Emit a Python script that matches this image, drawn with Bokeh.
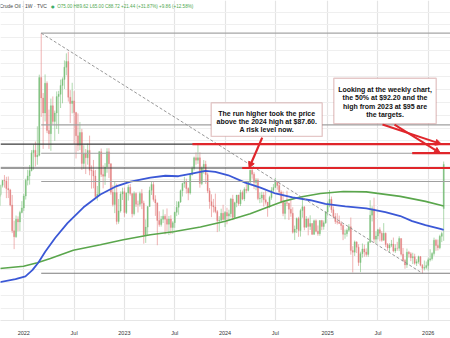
import pandas as pd
from bokeh.plotting import figure
from bokeh.models import (ColumnDataSource, Range1d, FixedTicker, BoxAnnotation,
                          Label, Arrow, NormalHead, Grid)
from bokeh.embed import file_html
from bokeh.resources import INLINE

# ------------------------------------------------------------------ data
first_week = "2021-10-04"          # Monday of the first weekly bar
prior_close = 75.88                # close before the first bar
last_open = 75.00                  # gap open of the last bar

close_2021 = [79.35, 82.28, 83.76, 83.57, 81.27, 80.79, 76.10, 68.15, 66.26, 71.67, 70.86, 73.79, 75.21]
high_2021 = [79.78, 82.45, 83.87, 85.41, 84.88, 84.97, 81.13, 79.25, 71.25, 72.85, 72.60, 74.33, 77.32]
low_2021 = [74.96, 78.75, 81.56, 81.50, 78.25, 78.28, 75.72, 67.40, 62.43, 65.93, 68.00, 68.03, 73.54]

close_2022 = [78.90, 83.82, 85.14, 86.82, 92.31, 93.10, 91.07, 91.59, 115.68, 109.33,
              104.70, 113.90, 99.27, 98.26, 106.95, 102.07, 104.69, 109.77, 110.49, 113.23,
              115.07, 118.87, 120.67, 109.56, 107.62, 108.43, 104.79, 97.59, 94.70, 98.62,
              89.01, 92.09, 90.77, 93.06, 86.87, 86.79, 85.11, 78.74, 79.49, 92.64,
              85.61, 85.05, 87.90, 92.61, 88.96, 80.08, 76.28, 79.98, 71.02, 74.29,
              79.56, 80.26]
high_2022 = [79.57, 84.29, 87.05, 88.54, 93.17, 94.94, 95.82, 100.54, 116.57, 129.45,
             110.86, 116.64, 114.50, 105.73, 109.14, 109.81, 105.41, 111.37, 111.54, 115.03,
             115.70, 120.99, 123.18, 123.68, 111.77, 114.05, 111.45, 105.04, 104.54, 101.88,
             99.75, 94.66, 93.50, 95.22, 97.65, 88.40, 90.10, 86.98, 82.03, 92.89,
             93.64, 88.41, 89.11, 93.74, 93.74, 89.01, 82.25, 83.34, 82.74, 77.98,
             80.33, 81.50]
low_2022 = [74.27, 77.82, 82.20, 82.44, 86.55, 87.10, 88.08, 88.61, 91.23, 103.46,
            93.53, 102.05, 98.44, 93.54, 92.93, 101.23, 96.02, 99.73, 98.20, 106.22,
            107.68, 112.11, 116.37, 108.22, 101.53, 104.56, 95.10, 90.56, 92.83, 93.16,
            87.01, 87.36, 85.73, 88.64, 85.35, 81.20, 81.30, 78.13, 77.50, 79.37,
            84.84, 81.30, 82.37, 86.13, 84.52, 79.33, 75.67, 73.60, 70.08, 70.30,
            73.77, 77.68]

close_2023 = [73.77, 79.86, 81.64, 79.68, 73.39, 79.72, 76.34, 76.32, 79.68, 76.68,
              66.74, 69.26, 75.67, 80.70, 82.52, 77.87, 76.78, 71.34, 70.04, 71.69,
              72.67, 71.74, 70.17, 71.78, 69.16, 70.64, 73.86, 75.42, 77.07, 80.58,
              82.82, 83.19, 81.25, 79.83, 85.55, 87.51, 90.77, 90.03, 90.79, 82.79,
              87.69, 88.75, 85.54, 80.51, 77.17, 75.89, 75.54, 74.07, 71.23, 71.43,
              73.56, 71.65]
high_2023 = [81.50, 80.05, 82.38, 82.66, 79.71, 80.35, 80.07, 77.46, 80.27, 81.04,
             77.46, 71.67, 75.72, 81.81, 83.53, 83.24, 79.14, 76.92, 74.17, 72.72,
             74.73, 73.28, 75.06, 72.72, 72.95, 71.11, 74.04, 77.30, 77.33, 80.92,
             83.03, 84.89, 84.30, 81.60, 85.95, 88.08, 91.15, 92.43, 95.03, 92.48,
             88.04, 90.06, 89.85, 86.20, 81.40, 79.44, 78.02, 79.67, 74.58, 72.65,
             74.97, 76.18]
low_2023 = [72.46, 73.33, 77.49, 79.05, 72.25, 72.87, 75.50, 73.80, 75.61, 74.84,
            64.12, 64.36, 66.82, 75.60, 79.23, 77.18, 72.75, 63.64, 69.39, 69.42,
            70.54, 67.03, 67.95, 66.80, 67.05, 67.16, 69.04, 72.66, 73.10, 76.77,
            78.76, 81.50, 79.67, 77.61, 79.35, 85.25, 86.85, 88.64, 88.90, 81.50,
            82.29, 85.85, 82.66, 79.80, 74.96, 72.37, 73.79, 73.56, 67.71, 67.97,
            71.19, 71.33]

close_2024 = [73.81, 72.68, 73.41, 78.01, 72.28, 76.84, 79.19, 76.49, 79.97, 78.01,
              81.04, 80.63, 83.17, 86.91, 85.66, 83.14, 83.85, 78.11, 78.26, 79.23,
              77.72, 76.99, 75.53, 78.45, 80.73, 81.54, 83.16, 82.21, 80.13, 77.16,
              73.52, 76.84, 76.65, 74.83, 73.55, 67.67, 68.65, 71.92, 68.18, 74.38,
              75.56, 69.22, 71.78, 69.49, 70.38, 67.02, 71.24, 68.00, 67.20, 71.29,
              69.46, 70.60]
high_2024 = [74.24, 75.27, 74.67, 78.34, 79.29, 77.14, 79.26, 79.31, 80.85, 80.62,
             81.62, 83.12, 83.53, 87.12, 87.60, 86.29, 84.46, 84.43, 79.99, 80.22,
             80.12, 80.62, 77.08, 78.98, 81.67, 82.65, 84.52, 83.58, 83.58, 80.68,
             80.30, 77.14, 80.56, 76.82, 77.85, 75.42, 69.74, 72.26, 72.46, 74.96,
             78.46, 75.70, 72.66, 72.20, 72.92, 70.50, 71.62, 71.69, 69.77, 71.42,
             71.51, 71.31]
low_2024 = [69.28, 70.13, 71.20, 72.26, 71.41, 71.72, 75.44, 75.87, 75.80, 77.62,
            77.33, 79.77, 80.33, 83.01, 84.28, 81.05, 80.70, 77.62, 76.70, 76.87,
            75.65, 76.26, 72.48, 75.19, 77.75, 80.12, 81.51, 80.85, 79.33, 76.64,
            72.65, 71.67, 75.80, 71.46, 72.49, 67.26, 65.27, 67.41, 66.24, 66.32,
            72.19, 68.29, 69.05, 66.72, 68.38, 66.81, 66.85, 67.67, 66.59, 66.56,
            68.28, 68.47]

close_2025 = [73.96, 76.57, 77.88, 74.66, 72.53, 71.00, 70.74, 70.40, 69.76, 67.04,
              67.18, 68.28, 69.36, 61.99, 61.50, 64.68, 63.02, 58.29, 61.02, 62.49,
              61.53, 60.79, 64.58, 72.98, 74.93, 65.52, 66.50, 68.45, 67.34, 65.16,
              67.33, 63.88, 62.80, 63.66, 64.01, 61.87, 62.69, 62.68, 65.72, 60.88,
              58.90, 57.54, 61.50, 60.98, 59.75, 60.09, 58.06, 58.55, 60.08, 57.44,
              56.52, 56.74]
high_2025 = [74.26, 77.21, 80.77, 78.75, 75.64, 73.61, 73.58, 72.84, 71.09, 70.14,
             68.49, 68.84, 70.21, 72.24, 63.34, 65.10, 64.85, 63.94, 61.64, 64.19,
             63.82, 62.67, 64.95, 77.62, 75.74, 78.40, 67.94, 68.74, 69.20, 68.01,
             70.51, 67.60, 64.31, 64.25, 65.29, 66.03, 63.95, 64.70, 66.42, 65.80,
             62.80, 59.40, 62.60, 61.90, 61.50, 61.30, 61.00, 59.30, 60.40, 60.30,
             57.80, 58.90]
low_2025 = [70.28, 72.86, 75.40, 73.68, 71.94, 70.26, 70.08, 70.33, 68.33, 65.22,
            65.66, 66.31, 67.81, 60.71, 55.20, 60.31, 61.20, 57.23, 55.30, 59.79,
            60.08, 60.06, 60.05, 64.31, 71.02, 64.38, 64.15, 65.46, 64.84, 64.72,
            65.09, 63.05, 61.94, 61.55, 63.04, 61.45, 61.25, 61.90, 61.80, 60.40,
            58.60, 56.35, 56.60, 59.80, 58.70, 57.80, 57.60, 57.20, 57.90, 57.10,
            54.95, 55.80]

close_2026 = [57.32, 59.12, 59.44, 61.07, 65.21, 63.55, 62.89, 66.39, 67.28, 88.72]
high_2026 = [58.60, 59.80, 62.40, 61.50, 66.00, 65.60, 65.40, 66.90, 67.80, 89.62]
low_2026 = [56.20, 55.80, 58.60, 58.90, 60.40, 61.90, 62.00, 62.40, 64.60, 65.00]

# moving averages
ma_blue_dates = ["2021-10-04", "2021-12-04", "2022-01-09", "2022-02-03", "2022-02-25", "2022-03-22",
                 "2022-04-27", "2022-06-10", "2022-08-07", "2022-10-07", "2022-11-30", "2023-01-24",
                 "2023-04-06", "2023-05-30", "2023-07-16", "2023-08-29", "2023-10-22", "2023-11-27",
                 "2024-01-13", "2024-03-14", "2024-05-08", "2024-07-01", "2024-09-01", "2024-11-05",
                 "2024-12-29", "2025-03-11", "2025-05-26", "2025-08-03", "2025-09-26", "2025-11-08",
                 "2025-12-26", "2026-02-18", "2026-03-02"]
ma_blue_values = [52.1, 53.1, 54.0, 55.9, 58.3, 61.7, 65.95, 70.5, 75.4, 79.4, 81.8, 83.4,
                  84.6, 85.2, 85.05, 85.8, 86.7, 86.4, 85.35, 83.06, 81.53, 79.7, 78.5, 77.6,
                  76.5, 75.7, 75.1, 73.9, 72.7, 71.1, 69.9, 68.7, 68.4]
ma_green_dates = ["2021-10-04", "2022-01-02", "2022-02-21", "2022-04-09", "2022-07-01", "2022-10-07",
                  "2022-12-29", "2023-04-06", "2023-06-28", "2023-10-04", "2024-01-02", "2024-04-01",
                  "2024-06-02", "2024-07-30", "2024-09-30", "2024-12-11", "2025-03-04", "2025-05-26",
                  "2025-09-26", "2025-12-26", "2026-03-02"]
ma_green_values = [56.4, 57.1, 58.2, 59.5, 62.1, 63.8, 65.34, 66.9, 67.8, 69.3, 71.1, 73.4,
                   75.4, 77.25, 78.6, 79.7, 80.3, 80.2, 78.8, 77.25, 75.8]

# drawings
trend_dates = ["2022-03-07", "2025-12-15"]
trend_prices = [129.45, 54.95]
fib_start = "2022-03-07"
fib_levels = [129.45, 100.99, 92.20, 83.41, 54.95]
dark_levels = [95.00, 87.60]
red_levels = [95.00, 92.20, 87.60]
red_starts = ["2023-09-05", "2025-11-08", "2024-03-03"]

tick_dates = ["2022-01-03", "2022-07-04", "2023-01-02", "2023-07-03", "2024-01-01",
              "2024-07-01", "2025-01-06", "2025-07-07", "2026-01-05"]
tick_labels = ["2022", "Jul", "2023", "Jul", "2024", "Jul", "2025", "Jul", "2026"]

header_title = "Crude Oil \u00b7 1W \u00b7 TVC"
header_ohlc = "O75.00 H89.62 L65.00 C88.72 +21.44 (+31.87%) +9.86 (+12.58%)"
note_1 = ["The run higher took the price", "above the 2024 high at $87.60.", "A risk level now."]
note_2 = ["Looking at the weekly chart,", "the 50% at $92.20 and the",
          "high from 2023 at $95 are", "the targets."]
arrow_1_target = ("2024-03-28", 87.60)
arrow_2_targets = [("2026-02-22", 95.00), ("2026-02-18", 92.20)]

# ------------------------------------------------------------------ layout helpers
FRAME_H = 325
ANCHOR_DATE = pd.Timestamp("2022-01-03"); ANCHOR_X = 23.3; PX_PER_WEEK = 1.935
ANCHOR_PRICE = 54.95; ANCHOR_Y = 277.0; PX_PER_USD = 3.273
DAY = 86400000.0


def ms(ts):
    return pd.Timestamp(ts).value / 1e6


def px_x(x):
    return ms(ANCHOR_DATE) + (x - ANCHOR_X) / PX_PER_WEEK * 7 * DAY


def px_y(y):
    return ANCHOR_PRICE + (ANCHOR_Y - y) / PX_PER_USD


closes = close_2021 + close_2022 + close_2023 + close_2024 + close_2025 + close_2026
highs = high_2021 + high_2022 + high_2023 + high_2024 + high_2025 + high_2026
lows = low_2021 + low_2022 + low_2023 + low_2024 + low_2025 + low_2026
n = min(len(closes), len(highs), len(lows))
closes, highs, lows = closes[:n], highs[:n], lows[:n]
dates = pd.date_range(first_week, periods=n, freq="7D")
opens = [prior_close] + closes[:-1]
opens[-1] = last_open

UP, DOWN = "#78be78", "#e47e7e"
src = ColumnDataSource(dict(
    x=[ms(d) for d in dates],
    top=[max(o, c) for o, c in zip(opens, closes)],
    bottom=[min(o, c) for o, c in zip(opens, closes)],
    high=highs, low=lows,
    color=[UP if c >= o else DOWN for o, c in zip(opens, closes)],
))

X0, X1 = px_x(0), px_x(450)
p = figure(width=450, height=338, x_range=Range1d(X0, X1),
           y_range=Range1d(px_y(FRAME_H), px_y(0)),
           output_backend="svg", toolbar_location=None, y_axis_location=None,
           min_border_left=0, min_border_right=0, min_border_top=0, min_border_bottom=13)
p.outline_line_color = None
p.background_fill_color = "white"
p.border_fill_color = "white"
p.xgrid.visible = False
p.ygrid.visible = False

tick_ms = [int(ms(d)) for d in tick_dates]
p.add_layout(Grid(dimension=0, ticker=FixedTicker(ticks=tick_ms),
                  grid_line_color="#e4e4e4", grid_line_width=1.2))
p.add_layout(Grid(dimension=1, ticker=FixedTicker(ticks=list(range(40, 141, 4))),
                  grid_line_color="#efefef", grid_line_width=1))

ax = p.xaxis[0]
ax.ticker = FixedTicker(ticks=tick_ms)
ax.major_label_overrides = {t: lab for t, lab in zip(tick_ms, tick_labels)}
ax.major_tick_line_color = None
ax.minor_tick_line_color = None
ax.axis_line_color = "#e6e6e6"
ax.major_label_text_font = "Liberation Sans"
ax.major_label_text_font_size = "5.5px"
ax.major_label_text_color = "#333333"
ax.major_label_standoff = 3

# candles
p.segment(x0="x", x1="x", y0="low", y1="high", line_color="color", line_width=0.7,
          line_alpha=0.85, source=src)
p.vbar(x="x", width=4.4 * DAY, top="top", bottom="bottom", fill_color="color",
       line_color="color", line_width=0.3, fill_alpha=0.85, line_alpha=0.85, source=src)

# moving averages
p.line([ms(d) for d in ma_green_dates], ma_green_values, line_color="#5aa64c", line_width=1.6)
p.line([ms(d) for d in ma_blue_dates], ma_blue_values, line_color="#3b58d6", line_width=1.8)

# fib lines
fib_colors = ["#a6a6a6", "#a0a0a0", "#a0a0a0", "#a0a0a0", "#7c7c7c"]
p.segment(x0=[ms(fib_start)] * len(fib_levels), x1=[X1] * len(fib_levels),
          y0=fib_levels, y1=fib_levels, line_color=fib_colors, line_width=1.1)
# dark level lines
p.segment(x0=[X0] * len(dark_levels), x1=[X1] * len(dark_levels),
          y0=dark_levels, y1=dark_levels, line_color="#3a3a3a", line_width=1.2)
# dashed trend line
p.line([ms(d) for d in trend_dates], trend_prices, line_color="#8c8c8c",
       line_width=0.9, line_dash="3 2")
# red level lines
RED = "#e0262b"
p.segment(x0=[ms(d) for d in red_starts], x1=[X1] * len(red_levels),
          y0=red_levels, y1=red_levels, line_color=RED, line_width=2.2)

# arrows
p.add_layout(Arrow(end=NormalHead(size=6, fill_color=RED, line_color=RED),
                   x_start=px_x(261.7), y_start=px_y(139.3),
                   x_end=ms(arrow_1_target[0]), y_end=arrow_1_target[1],
                   line_color=RED, line_width=2.2))
for (sx, (d, lvl)) in zip([382.0, 394.0], arrow_2_targets):
    p.add_layout(Arrow(end=NormalHead(size=6, fill_color=RED, line_color=RED),
                       x_start=px_x(sx), y_start=px_y(126.0),
                       x_end=ms(d), y_end=lvl, line_color=RED, line_width=2.0))

# note boxes
BOX_LINE = "#a84848"
for (l, t, r, b) in [(210.7, 104.0, 321.7, 138.0), (333.3, 79.0, 435.7, 125.0)]:
    p.add_layout(BoxAnnotation(left=px_x(l), right=px_x(r), top=px_y(t), bottom=px_y(b),
                               fill_color="white", fill_alpha=1.0,
                               line_color=BOX_LINE, line_width=1.4))

for lines, cx, y0, dy in [(note_1, 266.2, 114.3, 8.6), (note_2, 384.5, 90.0, 8.7)]:
    for i, txt in enumerate(lines):
        p.add_layout(Label(x=px_x(cx), y=px_y(y0 + i * dy), text=txt,
                           text_font="Liberation Sans", text_font_size="7px",
                           text_font_style="bold", text_color="#111111",
                           text_align="center", text_baseline="middle"))

# header
p.add_layout(Label(x=px_x(-1), y=px_y(6), text=header_title, text_font="Liberation Sans",
                   text_font_size="5px", text_color="#444444", text_baseline="middle"))
p.add_layout(Label(x=px_x(50.5), y=px_y(6), text="\u25cf", text_font="DejaVu Sans",
                   text_font_size="4px", text_color="#3fae6a", text_baseline="middle"))
p.add_layout(Label(x=px_x(56.7), y=px_y(6), text=header_ohlc, text_font="Liberation Sans",
                   text_font_size="4.6px", text_color="#4fa84f", text_baseline="middle"))

open("out.html", "w").write(file_html(p, INLINE))
